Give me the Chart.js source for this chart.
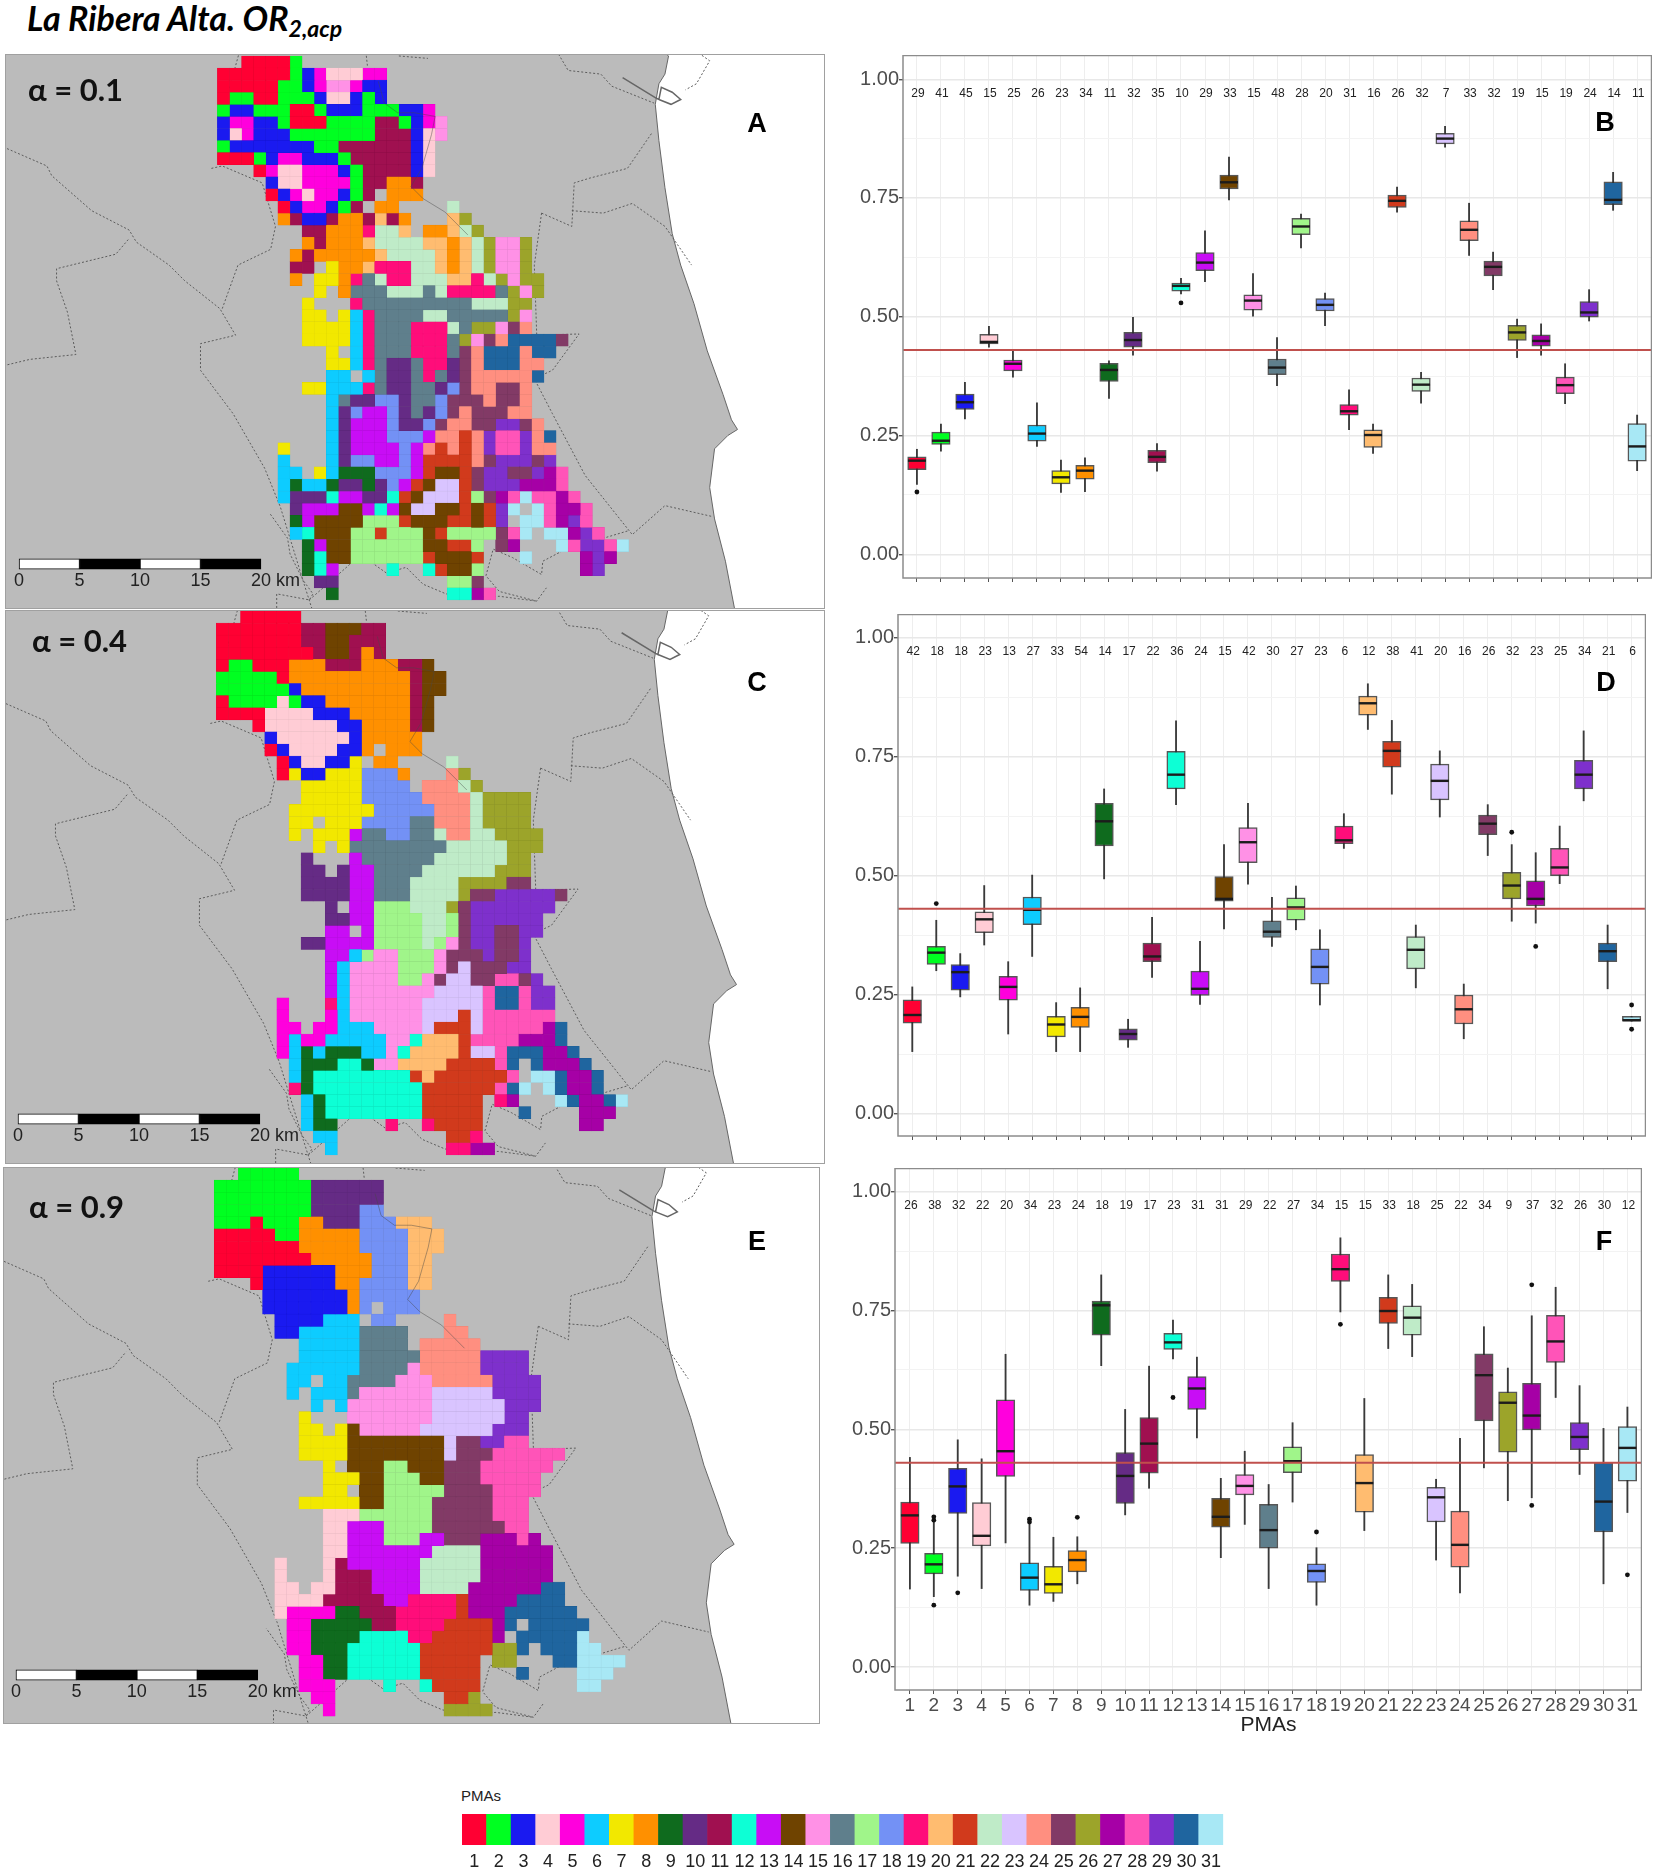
<!DOCTYPE html>
<html>
<head>
<meta charset="utf-8">
<title>La Ribera Alta</title>
<script src="https://cdn.jsdelivr.net/npm/chart.js@4"></script>
<style>
html, body { margin: 0; padding: 0; background: #fff; }
#page { position: relative; width: 1653px; height: 1873px; overflow: hidden; }
canvas { position: absolute; display: block; }
.map { background: #bbbbbb; outline: 1px solid #a0a0a0; }
.txt { position: absolute; white-space: nowrap; line-height: 1; color: #000; }
.alpha { font: bold 31px Lato, sans-serif; color: #111; }
.letter { font: bold 27px "Liberation Sans", sans-serif; transform: translate(-50%, -50%); }
#title { left: 27px; top: -3px; font: italic bold 34px Lato, sans-serif; }
#title sub { font-size: 23px; vertical-align: -6px; line-height: 0; }
#legTitle { left: 461px; top: 1787px; font: 15px "Liberation Sans", sans-serif; color: #222; }
</style>
</head>
<body>
<div id="page">
  <div class="txt" id="title">La Ribera Alta. OR<sub>2,acp</sub></div>

  <canvas class="map" id="mapA" width="818" height="553" style="left:6px;top:55px"></canvas>
  <canvas class="map" id="mapC" width="818" height="552" style="left:6px;top:611px"></canvas>
  <canvas class="map" id="mapE" width="815" height="555" style="left:4px;top:1168px"></canvas>

  <canvas id="boxB" width="822" height="540" style="left:830px;top:55px"></canvas>
  <canvas id="boxD" width="816" height="534" style="left:830px;top:614px"></canvas>
  <canvas id="boxF" width="812" height="570" style="left:830px;top:1168px"></canvas>
  <canvas id="legend" width="765" height="59" style="left:462px;top:1814px"></canvas>

  <div class="txt alpha" style="left:28px;top:70px">&alpha; = 0.1</div>
  <div class="txt alpha" style="left:32px;top:621px">&alpha; = 0.4</div>
  <div class="txt alpha" style="left:29px;top:1187px">&alpha; = 0.9</div>
  <div class="txt letter" style="left:757px;top:123px">A</div>
  <div class="txt letter" style="left:1605px;top:122px">B</div>
  <div class="txt letter" style="left:757px;top:682px">C</div>
  <div class="txt letter" style="left:1606px;top:682px">D</div>
  <div class="txt letter" style="left:757px;top:1241px">E</div>
  <div class="txt letter" style="left:1604px;top:1241px">F</div>
  <div class="txt" id="legTitle">PMAs</div>
</div>

<script>
// colores de cada PMA (1..31)
var pmaColors = ['#ff0033','#00ff21','#1a1af0','#ffccd5','#ff00dd','#0dccff','#f2e800','#ff9000','#0f6b1e','#652b85','#a01050',
                 '#0dffd5','#c80df5','#6f4300','#ff91e6','#5f7f8c','#a0f58a','#7391f5','#ff0d7a','#ffbc70','#d13a1c','#bfebc8',
                 '#d9c4ff','#ff8f80','#823a66','#9ca42a','#a600a6','#ff54b8','#7e30cc','#1f659f','#a8e8f5'];
var pmaLabels = ['1','2','3','4','5','6','7','8','9','10','11','12','13','14','15','16','17','18','19','20','21','22','23','24','25','26','27','28','29','30','31'];
var refLine = 0.43;
var scaleKm = [0, 5, 10, 15, 20];

// panel B, alpha = 0.1
var nB   = [29,41,45,15,25,26,23,34,11,32,35,10,29,33,15,48,28,20,31,16,26,32,7,33,32,19,15,19,24,14,11];
var loB  = [.147,.217,.285,.436,.373,.227,.130,.132,.328,.419,.175,.548,.574,.746,.501,.355,.645,.481,.262,.212,.720,.318,.857,.629,.557,.414,.419,.317,.491,.724,.176];
var q1B  = [.178,.231,.305,.443,.386,.238,.148,.158,.364,.436,.193,.554,.597,.769,.514,.378,.673,.512,.293,.225,.730,.343,.864,.660,.586,.450,.438,.338,.499,.736,.196];
var medB = [.197,.239,.320,.447,.401,.254,.162,.176,.388,.451,.205,.565,.614,.783,.534,.393,.690,.525,.301,.251,.744,.357,.875,.683,.605,.467,.449,.356,.509,.746,.227];
var q3B  = [.205,.257,.337,.463,.409,.272,.176,.187,.402,.467,.219,.571,.635,.798,.546,.411,.707,.538,.315,.262,.756,.371,.886,.702,.617,.482,.462,.373,.532,.784,.275];
var hiB  = [.221,.274,.362,.480,.428,.319,.198,.203,.407,.499,.233,.581,.681,.836,.591,.456,.716,.550,.346,.274,.773,.383,.901,.739,.636,.495,.485,.401,.557,.804,.293];
var outB = [[1,.131],[12,.529]];

// panel D, alpha = 0.4
var nD   = [42,18,18,23,13,27,33,54,14,17,22,36,24,15,42,30,27,23,6,12,38,41,20,16,26,32,23,25,34,21,6];
var loD  = [.130,.300,.245,.354,.167,.330,.130,.130,.493,.139,.286,.649,.229,.388,.482,.351,.386,.228,.557,.807,.671,.264,.623,.157,.542,.404,.400,.483,.657,.262,.194];
var q1D  = [.190,.313,.259,.380,.238,.397,.161,.181,.562,.154,.319,.682,.248,.446,.527,.370,.406,.272,.567,.837,.728,.304,.659,.188,.586,.451,.436,.500,.682,.319,.194];
var medD = [.207,.338,.297,.408,.266,.428,.187,.203,.614,.167,.330,.712,.262,.451,.570,.382,.433,.308,.574,.862,.762,.344,.699,.219,.609,.479,.451,.517,.712,.341,.196];
var q3D  = [.239,.351,.313,.424,.288,.455,.204,.223,.652,.178,.358,.761,.299,.498,.601,.405,.453,.346,.604,.877,.782,.372,.734,.249,.627,.507,.489,.557,.742,.358,.204];
var hiD  = [.266,.406,.336,.479,.319,.501,.233,.264,.682,.198,.412,.825,.362,.565,.652,.454,.478,.386,.630,.903,.826,.396,.762,.272,.649,.565,.548,.604,.804,.396,.204];
var outD = [[2,.441],[26,.591],[27,.351],[31,.228],[31,.177]];

// panel F, alpha = 0.9
var nF   = [26,38,32,22,20,34,23,24,18,19,17,23,31,31,29,22,27,34,15,15,33,18,25,22,34,9,37,32,26,30,12];
var loF  = [.164,.148,.191,.165,.261,.130,.138,.175,.634,.320,.376,.648,.482,.230,.300,.165,.347,.130,.747,.287,.670,.653,.225,.156,.419,.350,.356,.567,.405,.175,.325];
var q1F  = [.260,.196,.323,.255,.401,.161,.155,.200,.698,.344,.408,.668,.542,.294,.362,.250,.409,.178,.811,.326,.723,.698,.305,.210,.518,.452,.499,.641,.457,.284,.391];
var medF = [.319,.216,.380,.276,.454,.188,.174,.225,.761,.402,.470,.683,.586,.316,.381,.288,.433,.202,.837,.387,.749,.735,.357,.257,.614,.556,.529,.685,.484,.348,.461];
var q3F  = [.347,.239,.418,.346,.562,.219,.212,.245,.770,.451,.525,.702,.611,.355,.405,.342,.463,.217,.869,.447,.778,.760,.378,.328,.659,.579,.597,.740,.514,.430,.506];
var hiF  = [.441,.308,.478,.438,.658,.302,.273,.274,.825,.542,.633,.730,.652,.397,.454,.384,.514,.251,.903,.565,.825,.805,.395,.481,.716,.629,.739,.799,.592,.502,.547];
var outF = [[2,.316],[2,.309],[2,.130],[3,.156],[6,.311],[6,.305],[8,.315],[12,.567],[18,.284],[19,.721],[27,.804],[27,.340],[31,.194]];

// celdas de cada mapa: una cadena por fila, un caracter por columna (base 36 = numero de PMA, . = vacio)
var cellsA = [
"..11112","11111123544455","111112235ff533","12211222344323","233222112333222335","3553321112222bb235f","3453332222222bbb34f",
"2333333322bbbbbb34","11123553332bbbbb34","...154455532bbbb34","....34455552bb88b","....13545532b.888",".....135532b.88....m",
".....8b33b88bkb8...kq",".......bb888jmmk.88kmq",".......8b888kmmmmkk8kmqffq","......8b88888kmmmmk8kmqffq","......bb.788kjjjmmk8kmqffq",
"......8.778jgmjjmmmkkjmqfqq","........7.8gggmmmgmjjjjgqfq",".......7...jgggggggggmmmqq",".......77.76jggggmmgggggqf",".......77776jgggjjjmgqqfpo",
".......77776jgggjjjgqfpouuuup",".........7.6jgggjjjgpouuuouu",".........776jgaagjjapouuuoo",".........66.6gaagjgapooooou",".......77666jgaaggaipooppo",
".........6gaaiiaggipppoppo",".........6aiddiagaipopppoo",".........6adddiaaipooppttpo",".........6adddiiidoolotsstou",".....7...6addddidololotsstoo",
".....6...6aiiddidlllloptttpt",".....66.76999iiidleelpttpptrs",".....69669aa9aidlennlptttrrrs",".....6aaacddaaclennnlhprsvssrs","......adddeedcdenneeleltv.vsrrs",
"......9deeeehhhleeellelt.vvsrts","......6ceeehhlhhhelhhhhpsv.vvrts",".......9deehhhhhheellh.pr...vsttsv",".......9ceehhhhhhleeel...v....rtr",".......9cd....c..cleeh........rt",
"........aa.........hhp",".........9.........ccrs"];

var cellsC = [
"..11111","1111111bbeeebb","1111111bbeebbb","11111111beeb8b","122111888bbb888bbe","2222218888888888bee","2222223888888888bee",
"1222242338888888be","1111444433388888be","...1444444338888be","....3444444388888","....134444338.888",".....1344337.88....m",
".....1733777iii8...oq",".......77777iiii.ooomq",".......77777iiiiioooomqqqq","......7777777iiiiiooomqqqq","......77.777iiiiggooomqqqq",
"......7.777dggiiggmoommqqqq","........7.7ggggggggmmmmmqqq",".......a...dggggggmmmmmmqq",".......aa.addggggmmmmmmqqq",".......aaaaddgggmmmmqqqqpp",
".......aaaaddgggmmmmqpptttttp",".........a.ddhhhmmmqpttttttt",".........aaddhhhhmmhptttttt",".........dd.dhhhhmmhpttpptt",".......aaddddhhhhmhfpttppt",
".........dd6hffhhhfppptppt",".........d6ffffhhhfpnppptt",".........d6ffffhhfpnnppsspt",".........d6fffffffnnnnsuustt",".....5...j6ffffffnnnnnsuustt",
".....5...56ffffffnnnlnssssss",".....55.55666ffffnlllnsssssru",".....565566666ffckkklssssrrru",".....569699966fckkkklnnsuuurru","......6999cc9ffkkkkllllsu.urrru",
"......69cccccccclklllllls.vvurru","......j9cccccccccllllllsuv.vurru",".......69cccccccclllll.jr...vurruv",".......69cccccccclllll...u....rrr",".......699....j..jllll........rr",
"........66.........llj",".........6.........jjrr"];

var cellsE = [
"..22222","22222222aaaaaa","22222222aaaaaa","22222222aaaaii","222122288aaaiiikkk","111112288888iiiikkk","111111188888iiiikkk",
"1111111188888iiikk","1111333333888iiikk","...133333388iiiikk","....33333338iiiii","....33333338i.iii",".....3333666.ii....o",
".....3366666gggg...oo",".......66666gggg.ooooo",".......66666gggggoooootttt","......666666ggggfoooootttt","......66.66ggggfffoooootttt",
"......6.666gffffffnnnnntttt","........6.6fffffffnnnnnnttt",".......7...fffffffnnnnnntt",".......77.7efffffnnnnnnttt",".......7777eeeeeeeenppttss",
".......7777eeeeeeeenpppssssss",".........7.eeehheeepppssssss",".........777eehhheepppsssss",".........77.eehhhhhppppssss",".......77777eehhhhpppppsss",
".........444hhhhhhpppppsss",".........44dddhhhhppppppss",".........44dddhhhddppprrrsr",".........44dddddddmmmmrrrrrr",".....4...4bddddddmmmmmrrrrrr",
".....4...4bbbddddmmmmmrrrrrr",".....44.44bbbddddmmmmrrrrrruu",".....4444bbbbbddjjjjlrrrruuuu",".....4555599bbbjjjjjlrrruuuuuu","......5599999bbjjjjllllru.uuuuu",
"......559999ccccjjlllllr.uuuuuv","......55999ccccccllllllqqu.uuuvv",".......5599cccccclllll.qq...uuvvvv",".......5599cccccclllll...u....vvv",".......555....c..cllll........vv",
"........55.........llq",".........5.........qqqq"];

// costa y limites comarcales, en unidades de la rejilla (columna, fila)
var coast = [[36,-1],[37.3,0],[37,1.5],[36.5,2.3],[36.2,4],[36.5,7],[37,10.9],[37.6,14.7],[38.3,17.3],[39.4,20.5],[40.5,24.4],[41.8,28],[42.5,30.1],[43,30.9],[42.2,31.4],[41.1,32.5],[40.7,35.7],[41.1,38.3],[42,41.8],[43,47],[52,47]];
var borders = [
  [[-18,7.4],[-14.1,9.1],[-13.7,9.9],[-10.4,12.8],[-7.3,14.4],[-6.7,15.4],[-4,17.3],[-2.7,18.6],[0.2,20.9],[1.5,23.1],[-1.4,23.8],[-1.4,26],[1.3,29.6],[3.9,34.1],[5.2,37.3],[7.2,43.8],[7.9,46]],
  [[-18,25.7],[-15.5,25.1],[-11.7,24.7],[-12.4,21.2],[-13.3,18.6],[-13.3,17.6],[-8.4,16.4],[-7.3,15.1]],
  [[-0.5,9.3],[0.4,9.1],[3.7,10.5],[4.8,14.1],[4.4,16],[1.7,17.3],[0.4,20.9]],
  [[26.8,13],[26.2,17.3],[26.4,23.1],[29.9,23],[27.7,26],[26.2,26.7],[27.7,29.6],[30.4,34.7],[34.3,39.6],[37,37.2],[40.9,38.1]],
  [[27.7,-1],[29,1.2],[31.7,1.5],[32.6,2.5],[36.1,3.9]],
  [[26.8,13],[29.3,14.1],[29.5,10.5],[30.8,10.1],[33.9,9.3],[35.9,6.4]],
  [[29.3,12.8],[31.9,13],[34.3,12.2],[37,14.1],[39.2,17.3]],
  [[33.9,39.3],[31.9,39.9],[28.8,40.8],[26.9,41.8],[26.8,42.9],[24.4,41.5],[22.8,40.8],[22.2,43],[23.3,44.3],[26.4,45.1],[27.2,44]],
  [[4.9,46],[4.9,44.5],[7.6,45],[7.9,44.5],[7.1,43.4],[6,41.2],[5.8,39.9],[4.3,37.8]],
  [[7.6,45],[10.9,42.1],[12,40.9],[12.6,41.8],[14,42.8],[15.6,42.3],[17,43.7],[18.9,44.5],[20.9,44.8],[23.3,44.7],[26.4,45.1]],
  [[2,-1],[0.9,3]],
  [[12.2,-1],[12.4,0.8]],
  [[9,1.5],[11.9,1.6]],
  [[15,0],[17.4,0.2]],
  [[38.7,-1],[40.7,0.4],[39.6,2.3],[38.7,2.8]]
];
var river = [[13.3,2.1],[13.8,3.9],[14.9,4.7],[16.3,4.7],[18,5],[17.7,6.5],[16.9,9.3],[16,10.8],[17,11.8],[18.8,12.9],[19.9,14],[20.7,14.8]];
var port = [[33.5,1.8],[36.3,3.5],[36.5,3.6],[36.7,2.6],[37.6,3],[38.3,3.6],[37.5,4],[36.5,3.6]];

function toXY(list) {
    return list.map(function (p) { return {x: p[0], y: p[1]}; });
}

// oscurece un color para la linea fina entre celdas
function shade(hex) {
    var c = [1, 3, 5].map(function (i) { return Math.round(parseInt(hex.substr(i, 2), 16) * 0.9); });
    return 'rgb(' + c.join(',') + ')';
}

// el area del grafico tiene que quedar fija, sin el margen que reservan las etiquetas
function noPadding(axis) {
    axis.paddingTop = 0;
    axis.paddingBottom = 0;
    axis.paddingLeft = 0;
    axis.paddingRight = 0;
}

// texto de la barra de escala, en coordenadas de la propia escala
var scaleBarText = {
    id: 'scaleBarText',
    afterDatasetsDraw: function (chart, args, opts) {
        var ctx = chart.ctx;
        ctx.save();
        ctx.font = '18px "Liberation Sans", sans-serif';
        ctx.fillStyle = '#222';
        ctx.textBaseline = 'middle';
        scaleKm.forEach(function (km, i) {
            var px = chart.scales.x.getPixelForValue(opts.origin + km);
            var py = chart.scales.y.getPixelForValue(opts.row + 1.85);
            if (i == scaleKm.length - 1) {
                ctx.textAlign = 'left';
                ctx.fillText(km + ' km', px - 10, py);
            } else {
                ctx.textAlign = 'center';
                ctx.fillText(km, px, py);
            }
        });
        ctx.restore();
    }
};

function drawMap(id, rows, xMin, xMax, yMin, yMax, scaleRow) {
    var datasets = [];

    // mar
    datasets.push({type: 'line', data: toXY(coast), borderColor: '#666', borderWidth: 1, backgroundColor: '#fff',
                   fill: 'end', pointRadius: 0, tension: 0, order: 50});

    borders.forEach(function (b) {
        datasets.push({type: 'line', data: toXY(b), borderColor: '#5c5c5c', borderWidth: 1, borderDash: [2, 2],
                       pointRadius: 0, tension: 0, order: 40});
    });
    datasets.push({type: 'line', data: toXY(port), borderColor: '#666', borderWidth: 1.5, pointRadius: 0, tension: 0, order: 40});

    // una serie de celdas por PMA
    pmaColors.forEach(function (color, k) {
        var data = [];
        rows.forEach(function (row, r) {
            for (var c = 0; c < row.length; c++) {
                if (row[c] != '.' && parseInt(row[c], 36) == k + 1) {
                    data.push({x: c + 0.5, y: [r, r + 1]});
                }
            }
        });
        datasets.push({type: 'bar', data: data, backgroundColor: color, borderColor: shade(color), borderWidth: 0.4,
                       borderSkipped: false, barThickness: 12.09, grouped: false, order: 20});
    });

    datasets.push({type: 'line', data: toXY(river), borderColor: 'rgba(70,70,70,0.45)', borderWidth: 1, pointRadius: 0, tension: 0, order: 10});

    // barra de escala
    var origin = -16.4;
    scaleKm.slice(0, -1).forEach(function (km, i) {
        datasets.push({type: 'bar', data: [{x: origin + km + 2.5, y: [scaleRow, scaleRow + 0.85]}],
                       backgroundColor: i % 2 ? '#000' : '#fff', borderColor: '#000', borderWidth: 1,
                       borderSkipped: false, barThickness: 60.45, grouped: false, order: 5});
    });

    new Chart(document.getElementById(id), {
        type: 'bar',
        data: {datasets: datasets},
        plugins: [scaleBarText],
        options: {
            responsive: false,
            animation: false,
            events: [],
            layout: {padding: 0, autoPadding: false},
            plugins: {legend: {display: false}, tooltip: {enabled: false}, scaleBarText: {origin: origin, row: scaleRow}},
            scales: {
                x: {type: 'linear', offset: false, display: false, min: xMin, max: xMax, grid: {offset: false}},
                y: {type: 'linear', display: false, reverse: true, min: yMin, max: yMax, beginAtZero: false}
            }
        }
    });
}

// etiquetas n de cada caja y marco del panel
var panelExtras = {
    id: 'panelExtras',
    afterDatasetsDraw: function (chart, args, opts) {
        var ctx = chart.ctx, a = chart.chartArea;
        ctx.save();
        ctx.font = '12px "Liberation Sans", sans-serif';
        ctx.fillStyle = '#222';
        ctx.textAlign = 'center';
        ctx.textBaseline = 'middle';
        opts.counts.forEach(function (n, i) {
            ctx.fillText(n, chart.scales.x.getPixelForValue(i + 1) + 1, chart.scales.y.getPixelForValue(0.97));
        });
        ctx.strokeStyle = '#8c8c8c';
        ctx.lineWidth = 1.5;
        ctx.strokeRect(a.left, a.top + 0.5, a.right - a.left - 0.5, a.bottom - a.top - 0.5);
        ctx.restore();
    }
};

function drawBox(id, s) {
    var xs = pmaLabels.map(function (l) { return Number(l); });
    var whisker = xs.map(function (x, i) { return {x: x, y: [s.lo[i], s.hi[i]]}; });
    var box = xs.map(function (x, i) { return {x: x, y: [s.q1[i], s.q3[i]]}; });
    var med = xs.map(function (x, i) { return {x: x, y: s.med[i]}; });

    var datasets = [
        {type: 'bar', data: whisker, backgroundColor: '#3a3a3a', barThickness: 1.2, grouped: false, order: 30},
        {type: 'bar', data: box, backgroundColor: pmaColors, borderColor: 'rgba(45,45,45,0.8)', borderWidth: 1.5,
         borderSkipped: false, barThickness: 18.5, grouped: false, order: 20},
        {type: 'scatter', data: med, pointStyle: 'line', pointRadius: 9, pointBorderColor: '#1c1c1c', pointBorderWidth: 2.4, order: 10},
        {type: 'scatter', data: toXY(s.out), pointRadius: 2.4, pointBackgroundColor: '#111', pointBorderColor: '#111', pointBorderWidth: 0, order: 10},
        {type: 'line', data: [{x: s.xMin, y: refLine}, {x: s.xMax, y: refLine}], borderColor: '#c0504d', borderWidth: 2,
         pointRadius: 0, order: 1}
    ];

    new Chart(document.getElementById(id), {
        type: 'bar',
        data: {datasets: datasets},
        plugins: [panelExtras],
        options: {
            responsive: false,
            animation: false,
            events: [],
            layout: {padding: 0, autoPadding: false},
            plugins: {legend: {display: false}, tooltip: {enabled: false}, panelExtras: {counts: s.n}},
            scales: {
                x: {
                    type: 'linear', offset: false, min: s.xMin, max: s.xMax,
                    afterFit: function (axis) { axis.height = s.axisH; noPadding(axis); },
                    border: {display: false},
                    grid: {offset: false, color: '#eeeeee', lineWidth: 1, tickColor: '#555', tickLength: 4},
                    title: {display: s.xTitle, text: 'PMAs', color: '#222', padding: 0,
                            font: {family: 'Liberation Sans', size: 21}},
                    ticks: {
                        stepSize: 1, autoSkip: false, maxRotation: 0, includeBounds: false, padding: 0,
                        color: '#4d4d4d', font: {family: 'Liberation Sans', size: 19},
                        callback: function (v) { return s.xTitle ? String(v) : ''; }
                    }
                },
                y: {
                    type: 'linear', min: s.yMin, max: s.yMax, beginAtZero: false,
                    afterFit: function (axis) { axis.width = s.axisW; noPadding(axis); },
                    border: {display: false},
                    grid: {
                        color: function (c) { return Math.round(c.tick.value * 1000) % 250 == 0 ? '#e8e8e8' : '#f3f3f3'; },
                        lineWidth: function (c) { return Math.round(c.tick.value * 1000) % 250 == 0 ? 1.4 : 1; },
                        tickColor: function (c) { return Math.round(c.tick.value * 1000) % 250 == 0 ? '#555' : 'rgba(0,0,0,0)'; },
                        tickLength: 4
                    },
                    ticks: {
                        stepSize: 0.125, autoSkip: false, includeBounds: false, padding: 0,
                        color: '#4d4d4d', font: {family: 'Liberation Sans', size: 20},
                        callback: function (v) { return Math.round(v * 1000) % 250 == 0 ? v.toFixed(2) : ''; }
                    }
                }
            }
        }
    });
}

function drawLegend() {
    new Chart(document.getElementById('legend'), {
        type: 'bar',
        data: {labels: pmaLabels, datasets: [{data: pmaLabels.map(function () { return 1; }), backgroundColor: pmaColors,
                                              barPercentage: 1, categoryPercentage: 1}]},
        options: {
            responsive: false,
            animation: false,
            events: [],
            layout: {padding: 0, autoPadding: false},
            plugins: {legend: {display: false}, tooltip: {enabled: false}},
            scales: {
                x: {
                    afterFit: function (axis) { axis.height = 28; },
                    border: {display: false},
                    grid: {display: false, drawTicks: false},
                    ticks: {autoSkip: false, maxRotation: 0, padding: 6, color: '#222', font: {family: 'Liberation Sans', size: 18}}
                },
                y: {display: false, min: 0, max: 1}
            }
        }
    });
}

drawMap('mapA', cellsA, -17.48, 50.15, -0.08, 45.67, 41.6);
drawMap('mapC', cellsC, -17.39, 50.23, 0, 45.66, 41.6);
drawMap('mapE', cellsE, -17.39, 50.02, 0, 45.57, 41.2);

drawBox('boxB', {n: nB, lo: loB, q1: q1B, med: medB, q3: q3B, hi: hiB, out: outB, xMin: 0.42, xMax: 31.62, yMin: -0.05, yMax: 1.051, axisW: 73, axisH: 17, xTitle: false});
drawBox('boxD', {n: nD, lo: loD, q1: q1D, med: medD, q3: q3D, hi: hiD, out: outD, xMin: 0.404, xMax: 31.6, yMin: -0.0473, yMax: 1.0496, axisW: 68, axisH: 12, xTitle: false});
drawBox('boxF', {n: nF, lo: loF, q1: q1F, med: medF, q3: q3F, hi: hiF, out: outF, xMin: 0.377, xMax: 31.61, yMin: -0.0484, yMax: 1.0499, axisW: 65, axisH: 48, xTitle: true});
drawLegend();
</script>
</body>
</html>
